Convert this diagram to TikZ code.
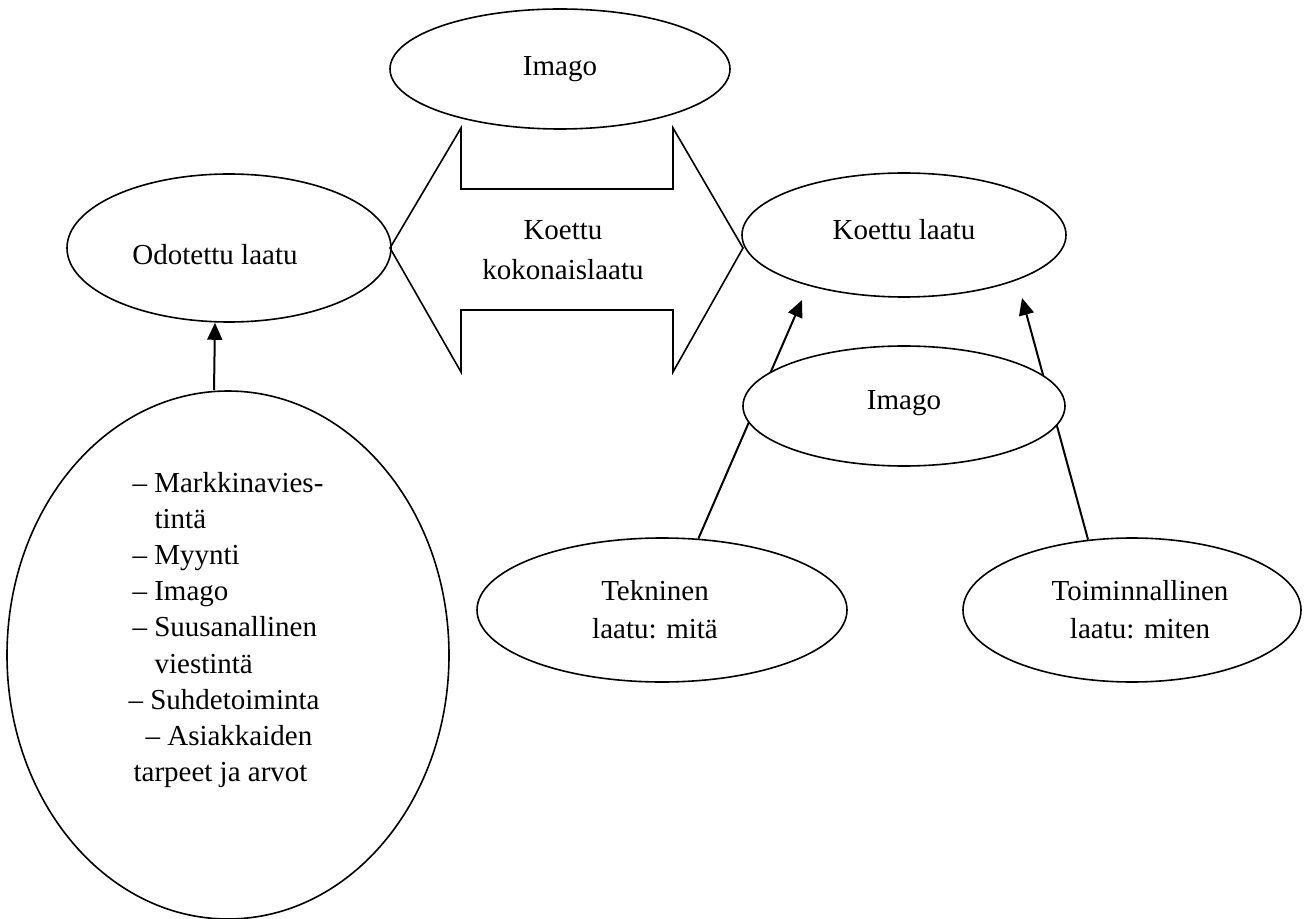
\documentclass[tikz,border=0pt]{standalone}
\usepackage{fontspec}
\setmainfont{Liberation Serif}
\usepackage{tikz}
\usetikzlibrary{shapes.geometric,arrows.meta}
\pgfdeclarelayer{background}
\pgfdeclarelayer{foreground}
\pgfsetlayers{background,main,foreground}
\tikzset{
  oval/.style={draw,ellipse,fill=white,line width=0.8pt,inner sep=0pt,align=center,font=\fontsize{14.5}{19}\selectfont},
  lbl/.style={inner sep=0pt,font=\fontsize{14.5}{18}\selectfont},
  arr/.style={-{Triangle[length=8.5pt,width=7.5pt]},line width=1pt}
}
\begin{document}
\begin{tikzpicture}[x=0.5pt,y=-0.5pt]
\useasboundingbox (0,0) rectangle (1306,919);
\node[oval,minimum width=170pt,minimum height=60pt] (img) at (560,69) {Imago};
\node[oval,minimum width=162pt,minimum height=74pt,text height=17pt,text depth=0pt] (odo) at (229,248) {Odotettu laatu\hspace*{14pt}};
\node[oval,minimum width=162pt,minimum height=62pt,text height=10pt,text depth=5pt] (koe) at (904,235) {Koettu laatu};
\node[oval,minimum width=161pt,minimum height=60pt,text height=10pt,text depth=7pt] (img2) at (904,406) {Imago};
\node[oval,minimum width=185pt,minimum height=72pt] (tek) at (662,610) {Tekninen\hspace*{7pt}\\laatu: mitä\hspace*{7pt}};
\node[oval,minimum width=169pt,minimum height=72pt] (toi) at (1132,610) {\hspace*{8pt}Toiminnallinen\\\hspace*{8pt}laatu: miten};
\node[oval,minimum width=221pt,minimum height=264pt] (lst) at (228,655) {};
\node[lbl,align=left,font=\fontsize{14.5}{18.1}\selectfont] (lsttxt) at ([xshift=-1pt,yshift=12.5pt]lst.center) {%
\hspace*{2pt}– Markkinavies-\\
\hspace*{13pt}tintä\\
\hspace*{2pt}– Myynti\\
\hspace*{2pt}– Imago\\
\hspace*{2pt}– Suusanallinen\\
\hspace*{13pt}viestintä\\
– Suhdetoiminta\\
\hspace*{8.5pt}– Asiakkaiden\\
\hspace*{2.5pt}tarpeet ja arvot};
% double arrow between the two qualities
\draw[line width=0.8pt] (461,372) -- (390,248) -- (461,128) -- (461,189) -- (673,189) -- (673,128)
  -- (743,248) -- (673,372) -- (673,310) -- (461,310) -- cycle;
\node[lbl,align=center,font=\fontsize{14.5}{20}\selectfont] (kok) at (563,250) {Koettu\\kokonaislaatu};
\coordinate (tekend) at (802,300);
\coordinate (toiend) at (1022,298);
\begin{pgfonlayer}{background}
\draw[arr] ([xshift=-7pt]lst.north) -- ([xshift=-7pt]odo.south);
\draw[arr] (tek.63) -- (tekend);
\draw[arr] (toi.122) -- (toiend);
\end{pgfonlayer}
\end{tikzpicture}
\end{document}
